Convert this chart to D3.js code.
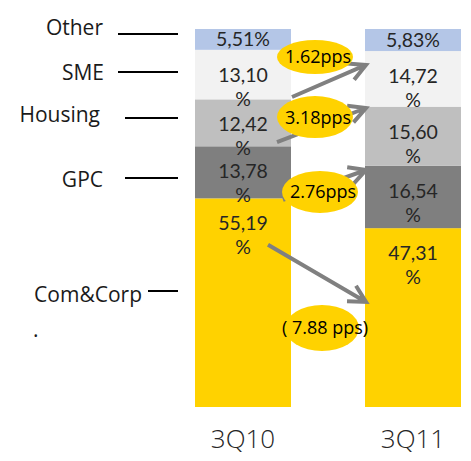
<!DOCTYPE html>
<html>
<head>
<meta charset="utf-8">
<script src="https://cdn.jsdelivr.net/npm/d3@7"></script>
<style>
  html, body { margin: 0; padding: 0; background: #fff; }
  svg { display: block; font-family: "Open Sans", "Noto Sans", sans-serif; }
</style>
</head>
<body>
<svg id="chart" width="471" height="461"></svg>
<script>
// ---------- data ----------
const periods = ["3Q10", "3Q11"];
const segments = ["Com&Corp", "GPC", "Housing", "SME", "Other"]; // bottom -> top
const comCorp = [55.19, 47.31];
const gpc = [13.78, 16.54];
const housing = [12.42, 15.60];
const sme = [13.10, 14.72];
const other = [5.51, 5.83];
const segColors = ["#FFD200", "#7F7F7F", "#BFBFBF", "#F2F2F2", "#B4C6E7"];

// change annotations (SME, Housing, GPC, Com&Corp)
const changeLabels = ["1.62pps", "3.18pps", "2.76pps", "( 7.88 pps)"];
const arrowFromPct = [82.0, 70.1, 54.8, 42.9];   // stack level on 3Q10 side
const arrowToPct = [90.5, 79.1, 62.7, 27.8];     // stack level on 3Q11 side
const bubblePct = [92.6, 76.7, 56.9, 20.9];      // stack level of bubble centre

// ---------- layout ----------
const svg = d3.select("#chart");
const x = d3.scaleBand().domain(periods).range([195, 461]).paddingInner(74 / 170).paddingOuter(0);
const y = d3.scaleLinear().domain([0, 100]).range([407, 29]);
const bw = x.bandwidth();

const table = periods.map((p, i) => ({
  period: p,
  "Com&Corp": comCorp[i], "GPC": gpc[i], "Housing": housing[i], "SME": sme[i], "Other": other[i]
}));
const stacked = d3.stack().keys(segments)(table);

const fmt = v => v.toFixed(2).replace(".", ",");

// bars
const layers = svg.append("g").selectAll("g").data(stacked).join("g")
  .attr("fill", (d, i) => segColors[i]);
layers.selectAll("rect").data(d => d).join("rect")
  .attr("x", d => x(d.data.period))
  .attr("width", bw)
  .attr("y", d => y(d[1]))
  .attr("height", d => y(d[0]) - y(d[1]));

// value labels
const lab = svg.append("g").attr("fill", "#262626").attr("font-size", 19.5)
  .attr("font-family", "Lato, 'Open Sans', sans-serif").attr("text-anchor", "middle");
stacked.forEach(layer => {
  layer.forEach(d => {
    const v = d[1] - d[0];
    const cx = x(d.data.period) + bw / 2;
    if (v < 8) {
      lab.append("text").attr("x", cx).attr("y", (y(d[1]) + y(d[0])) / 2)
        .attr("dy", "0.36em").text(fmt(v) + "%");
    } else {
      const top = y(d[1]);
      const t = lab.append("text").attr("x", cx).attr("y", top + 25).attr("dy", "0.36em");
      t.append("tspan").attr("x", cx).text(fmt(v));
      t.append("tspan").attr("x", cx).attr("dy", 24).text("%");
    }
  });
});

// x axis labels
const xAxis = svg.append("g").attr("transform", "translate(0,425)")
  .call(d3.axisBottom(x).tickSize(0).tickPadding(0));
xAxis.select(".domain").remove();
xAxis.selectAll("text").attr("font-size", 26).attr("fill", "#262626")
  .attr("font-family", "'Open Sans', sans-serif").attr("dy", "0.9em").attr("font-weight", 300);

// left category labels with leader lines
const legendOrder = ["Other", "SME", "Housing", "GPC", "Com&Corp"];
const legendBase = [35, 80, 122, 187, 302];
const legendLine = [34, 72, 118, 178, 291];
const legendLineStart = [118, 118, 125, 125, 148];
const legendTextEnd = [103, 104, 100, 103, 142];
const leg = svg.append("g");
legendOrder.forEach((name, i) => {
  leg.append("line").attr("x1", legendLineStart[i]).attr("x2", 178)
    .attr("y1", legendLine[i]).attr("y2", legendLine[i])
    .attr("stroke", "#000").attr("stroke-width", 2);
  leg.append("text").attr("x", legendTextEnd[i]).attr("y", legendBase[i])
    .attr("text-anchor", "end").attr("font-size", 21).attr("fill", "#1a1a1a").text(name);
});
leg.append("text").attr("x", 33).attr("y", 337).attr("font-size", 21).attr("fill", "#1a1a1a").text(".");

// arrows
const x1Right = x(periods[0]) + bw;
const x2Left = x(periods[1]);
const fromDx = [1, -14, -8, -23];
const ann = svg.append("g");
changeLabels.forEach((t, i) => {
  const sx = x1Right + fromDx[i], sy = y(arrowFromPct[i]);
  const ex = x2Left + 1, ey = y(arrowToPct[i]);
  const ang = Math.atan2(ey - sy, ex - sx);
  const L = 19, a = 28 * Math.PI / 180;
  const p1 = [ex - L * Math.cos(ang - a), ey - L * Math.sin(ang - a)];
  const p2 = [ex - L * Math.cos(ang + a), ey - L * Math.sin(ang + a)];
  ann.append("path")
    .attr("d", `M${sx},${sy}L${ex},${ey}M${p1[0]},${p1[1]}L${ex},${ey}L${p2[0]},${p2[1]}`)
    .attr("fill", "none").attr("stroke", "#808080").attr("stroke-width", 4)
    .attr("stroke-linejoin", "miter");
});

// bubbles
const bubbleDx = [24, 24, 29, 31];
const bubbleRx = [38, 38, 38, 37];
const bubbleRy = [17, 21, 21, 23];
changeLabels.forEach((t, i) => {
  const cx = x1Right + bubbleDx[i], cy = y(bubblePct[i]);
  ann.append("ellipse").attr("cx", cx).attr("cy", cy)
    .attr("rx", bubbleRx[i]).attr("ry", bubbleRy[i]).attr("fill", "#FFD200");
  ann.append("text").attr("x", cx + 3).attr("y", cy).attr("dy", "0.36em")
    .attr("text-anchor", "middle").attr("font-size", 18).attr("fill", "#000").text(t);
});
</script>
</body>
</html>
